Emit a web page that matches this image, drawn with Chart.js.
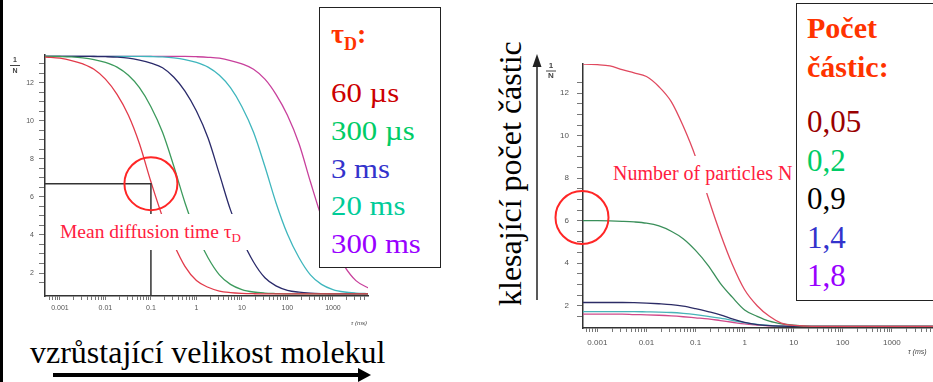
<!DOCTYPE html>
<html>
<head>
<meta charset="utf-8">
<script src="https://cdn.jsdelivr.net/npm/chart.js@4.4.0/dist/chart.umd.min.js"></script>
<style>
  html, body { margin: 0; padding: 0; background: #fff; }
  body { width: 933px; height: 382px; position: relative; overflow: hidden;
         font-family: "Liberation Serif", "Times New Roman", serif; }
  .wrap { position: absolute; }
  .box { position: absolute; background: #fff; border: 1.5px solid #222; box-sizing: border-box; }
  .t { position: absolute; white-space: nowrap; }
  .note { position: absolute; background: #fff; color: #ff2040; white-space: nowrap; }
  svg { position: absolute; left: 0; top: 0; }
</style>
</head>
<body>

<div class="wrap" style="left:0;top:0;width:380px;height:330px;"><canvas id="leftChart"></canvas></div>
<div class="wrap" style="left:540px;top:0;width:410px;height:375px;"><canvas id="rightChart"></canvas></div>

<!-- left legend -->
<div class="box" style="left:319px;top:7px;width:122px;height:261px;"></div>
<div class="t" style="left:331px;top:19px;font-size:28px;line-height:30px;font-weight:bold;color:#ff3300;">τ<span style="font-size:18px;position:relative;top:7px;">D</span>:</div>
<div class="t" style="left:331px;top:74px;font-size:28px;line-height:37.75px;transform:scaleX(1.1);transform-origin:left top;">
  <div style="color:#cc0000;">60 µs</div>
  <div style="color:#00cc66;">300 µs</div>
  <div style="color:#3333cc;">3 ms</div>
  <div style="color:#00cc99;">20 ms</div>
  <div style="color:#9900ff;">300 ms</div>
</div>

<!-- right legend -->
<div class="box" style="left:796px;top:3px;width:160px;height:298px;"></div>
<div class="t" style="left:807px;top:8px;font-size:30px;line-height:39px;font-weight:bold;color:#ff3300;">Počet<br>částic:</div>
<div class="t" style="left:807px;top:103px;font-size:31px;line-height:38.5px;">
  <div style="color:#990000;">0,05</div>
  <div style="color:#00cc66;">0,2</div>
  <div style="color:#000000;">0,9</div>
  <div style="color:#3333cc;">1,4</div>
  <div style="color:#9900ff;">1,8</div>
</div>

<!-- annotations -->
<div class="note" style="left:55px;top:214px;width:200px;height:36px;line-height:35px;font-size:19.5px;padding-left:5px;box-sizing:border-box;">Mean diffusion time τ<span style="font-size:13px;position:relative;top:4px;">D</span></div>
<div class="note" style="left:610px;top:156px;width:184px;height:37px;line-height:35px;font-size:20px;padding-left:3px;box-sizing:border-box;">Number of particles N</div>

<div class="t" style="left:30px;top:334px;font-size:32px;line-height:36px;color:#000;">vzrůstající velikost molekul</div>
<div class="t" style="left:492px;top:306px;font-size:32px;line-height:36px;color:#000;transform:rotate(-90deg);transform-origin:left top;">klesající počet částic</div>

<svg width="933" height="382">
  <rect x="0" y="0" width="3" height="382" fill="#000"/>
  <line x1="53" y1="375" x2="360" y2="375" stroke="#000" stroke-width="4"/>
  <polygon points="358,368 371,375 358,382" fill="#000"/>
  <line x1="537" y1="300" x2="537" y2="64" stroke="#222" stroke-width="1.5"/>
  <polygon points="532.5,67 537,54 541.5,67" fill="#222"/>
</svg>

<script>
// lag time grid (ms), quarter decades from 10^-3.5 to 10^4
const tau = [0.00032, 0.00056, 0.001, 0.0018, 0.0032, 0.0056, 0.01, 0.018, 0.032, 0.056,
             0.1, 0.18, 0.32, 0.56, 1, 1.8, 3.2, 5.6, 10, 18,
             32, 56, 100, 180, 320, 560, 1000, 1800, 3200, 5600, 10000];

// left plot: same N, growing diffusion time
const left60us  = [13.38, 13.35, 13.3, 13.18, 13.0, 12.72, 12.2, 11.4, 10.3, 8.8,
                   6.8, 4.95, 3.5, 2.35, 1.6, 1.25, 1.05, 0.97, 0.93, 0.91,
                   0.9, 0.9, 0.9, 0.9, 0.9, 0.9, 0.9, 0.9, 0.9, 0.9, 0.9];
const left300us = [13.4, 13.4, 13.39, 13.37, 13.32, 13.23, 13.08, 12.83, 12.4, 11.75,
                   10.75, 9.4, 7.6, 5.7, 4.05, 2.8, 1.9, 1.4, 1.13, 1.0,
                   0.945, 0.92, 0.9, 0.9, 0.9, 0.9, 0.9, 0.9, 0.9, 0.9, 0.9];
const left3ms   = [13.4, 13.4, 13.4, 13.4, 13.4, 13.39, 13.38, 13.36, 13.31, 13.2,
                   13.04, 12.8, 12.3, 11.57, 10.52, 9.1, 7.2, 5.32, 3.79, 2.58,
                   1.75, 1.32, 1.09, 0.99, 0.94, 0.915, 0.9, 0.9, 0.9, 0.9, 0.9];
const left20ms  = [13.4, 13.4, 13.4, 13.4, 13.4, 13.4, 13.4, 13.4, 13.4, 13.4,
                   13.39, 13.37, 13.32, 13.23, 13.08, 12.83, 12.4, 11.75, 10.75, 9.4,
                   7.6, 5.7, 4.05, 2.8, 1.9, 1.4, 1.13, 1.0, 0.945, 0.92, 0.9];
const left300ms = [13.4, 13.4, 13.4, 13.4, 13.4, 13.4, 13.4, 13.4, 13.4, 13.4,
                   13.4, 13.4, 13.4, 13.4, 13.38, 13.35, 13.3, 13.18, 13.0, 12.72,
                   12.2, 11.4, 10.3, 8.8, 6.8, 4.95, 3.5, 2.35, 1.6, 1.25, 1.05];

// right plot: same diffusion time, growing particle number
const rightN005 = [13.36, 13.36, 13.34, 13.28, 13.1, 12.95, 12.78, 12.3, 11.6, 10.45,
                   9.0, 7.1, 5.4, 3.95, 2.75, 2.0, 1.5, 1.18, 1.07, 1.04,
                   1.03, 1.03, 1.03, 1.03, 1.03, 1.03, 1.03, 1.03, 1.03, 1.03, 1.03];
const rightN02  = [6.0, 6.0, 6.0, 5.99, 5.97, 5.94, 5.88, 5.75, 5.5, 5.15,
                   4.6, 3.9, 3.05, 2.4, 1.8, 1.5, 1.27, 1.15, 1.08, 1.04,
                   1.03, 1.03, 1.03, 1.03, 1.03, 1.03, 1.03, 1.03, 1.03, 1.03, 1.03];
const rightN09  = [2.15, 2.15, 2.15, 2.15, 2.15, 2.14, 2.12, 2.09, 2.05, 1.98,
                   1.86, 1.72, 1.57, 1.38, 1.22, 1.11, 1.06, 1.04, 1.03, 1.03,
                   1.03, 1.03, 1.03, 1.03, 1.03, 1.03, 1.03, 1.03, 1.03, 1.03, 1.03];
const rightN14  = [1.72, 1.72, 1.72, 1.72, 1.72, 1.72, 1.71, 1.7, 1.68, 1.64,
                   1.58, 1.5, 1.41, 1.31, 1.2, 1.12, 1.07, 1.04, 1.03, 1.03,
                   1.03, 1.03, 1.03, 1.03, 1.03, 1.03, 1.03, 1.03, 1.03, 1.03, 1.03];
const rightN18  = [1.6, 1.6, 1.6, 1.6, 1.6, 1.58, 1.57, 1.55, 1.52, 1.48,
                   1.43, 1.38, 1.3, 1.22, 1.14, 1.09, 1.05, 1.04, 1.03, 1.03,
                   1.03, 1.03, 1.03, 1.03, 1.03, 1.03, 1.03, 1.03, 1.03, 1.03, 1.03];

// marked points
const markTau = 0.1, markLevel = 6.7;     // mean diffusion time on the left
const startLevel = 6.15;                  // circled amplitude on the right

const isPow10 = v => Math.abs(Math.log10(v) - Math.round(Math.log10(v))) < 1e-9;
const isStep = v => {
  const e = Math.floor(Math.log10(v) + 1e-9);
  const m = v / Math.pow(10, e);
  return Math.abs(m - Math.round(m)) < 1e-6;
};
const decadeLabel = v => {
  const k = Math.round(Math.log10(v));
  return k < 0 ? Math.pow(10, k).toFixed(-k) : String(Math.pow(10, k));
};

function series(values, color) {
  return {
    data: values.map((v, i) => ({ x: tau[i], y: v })),
    borderColor: color,
    borderWidth: 1.3,
    pointRadius: 0,
    fill: false,
    cubicInterpolationMode: 'monotone'
  };
}

function xAxis(min, max, size, pad, height) {
  return {
    type: 'logarithmic', min, max,
    afterBuildTicks: s => { s.ticks = s.ticks.filter(t => isStep(t.value)); },
    afterFit: s => { s.height = height; },
    grid: { drawOnChartArea: false, drawTicks: true, tickLength: 4, tickColor: '#777', tickWidth: 1 },
    border: { display: true, color: '#333', width: 1.5 },
    ticks: { autoSkip: false, maxRotation: 0, padding: pad, color: '#555',
             font: { family: 'Liberation Sans, Arial, sans-serif', size },
             callback: v => isPow10(v) ? decadeLabel(v) : '' }
  };
}

function yAxis(min, max, size, pad, width, tick) {
  return {
    min, max,
    afterBuildTicks: s => { s.ticks = s.ticks.filter(t => Math.abs(t.value * 2 - Math.round(t.value * 2)) < 1e-6); },
    afterFit: s => { s.width = width; },
    grid: { drawOnChartArea: false, drawTicks: true, tickLength: tick, tickColor: '#777', tickWidth: 1 },
    border: { display: true, color: '#333', width: 1.5 },
    ticks: { stepSize: 0.5, autoSkip: false, padding: pad, color: '#555',
             font: { family: 'Liberation Sans, Arial, sans-serif', size },
             callback: v => (v % 2 === 0 && v > 0) ? String(v) : '' }
  };
}

function axisLabels(o) {
  return {
    id: 'axisLabels',
    afterDraw(chart) {
      const { ctx, chartArea: a } = chart;
      ctx.save();
      ctx.fillStyle = '#444';
      ctx.strokeStyle = '#444';
      ctx.font = 'bold ' + o.size + 'px Liberation Sans, Arial';
      ctx.textAlign = 'center';
      ctx.textBaseline = 'middle';
      const cx = a.left - o.dx;
      ctx.fillText('1', cx, a.top + o.dy);
      ctx.lineWidth = 1;
      ctx.beginPath(); ctx.moveTo(cx - 5, a.top + o.dy + o.gap); ctx.lineTo(cx + 5, a.top + o.dy + o.gap); ctx.stroke();
      ctx.fillText('N', cx, a.top + o.dy + 2 * o.gap);
      ctx.font = 'italic ' + (o.size - 1) + 'px Liberation Sans, Arial';
      ctx.textAlign = o.tauAlign;
      ctx.fillText('τ (ms)', o.tauAlign === 'right' ? a.right - 1 : a.right - 29, a.bottom + o.tauDy);
      ctx.restore();
    }
  };
}

const leftMarks = {
  id: 'leftMarks',
  afterDatasetsDraw(chart) {
    const { ctx, chartArea: a, scales: { x, y } } = chart;
    const px = x.getPixelForValue(markTau), py = y.getPixelForValue(markLevel);
    ctx.save();
    ctx.strokeStyle = '#333';
    ctx.lineWidth = 1.5;
    ctx.beginPath(); ctx.moveTo(a.left, py); ctx.lineTo(px, py); ctx.lineTo(px, a.bottom); ctx.stroke();
    ctx.strokeStyle = '#ff2626';
    ctx.lineWidth = 2;
    ctx.beginPath(); ctx.arc(px, py, 26.5, 0, Math.PI * 2); ctx.stroke();
    ctx.restore();
  }
};

const rightMarks = {
  id: 'rightMarks',
  afterDatasetsDraw(chart) {
    const { ctx, chartArea: a, scales: { y } } = chart;
    ctx.save();
    ctx.strokeStyle = '#ff2626';
    ctx.lineWidth = 2;
    ctx.beginPath(); ctx.arc(a.left - 1, y.getPixelForValue(startLevel), 26.5, 0, Math.PI * 2); ctx.stroke();
    ctx.restore();
  }
};

const common = {
  responsive: true,
  maintainAspectRatio: false,
  animation: false,
  events: [],
  plugins: { legend: { display: false }, tooltip: { enabled: false } }
};

new Chart(document.getElementById('leftChart'), {
  type: 'line',
  data: {
    datasets: [
      series(left60us, '#e23a4a'),
      series(left300us, '#3c9a5c'),
      series(left3ms, '#2a2a6a'),
      series(left20ms, '#3fb6bd'),
      series(left300ms, '#c8409c')
    ]
  },
  options: Object.assign({}, common, {
    layout: { padding: { left: 0, top: 55, right: 12, bottom: 0 } },
    scales: { x: xAxis(0.00047, 5900, 7, 4, 34), y: yAxis(0.79, 13.47, 7, 5, 45, 6) }
  }),
  plugins: [leftMarks, axisLabels({ size: 7, dx: 30, dy: 5, gap: 5.5, tauDy: 27, tauAlign: 'right' })]
});

new Chart(document.getElementById('rightChart'), {
  type: 'line',
  data: {
    datasets: [
      series(rightN005, '#e0485e'),
      series(rightN02, '#3a8f5a'),
      series(rightN09, '#2c2c66'),
      series(rightN14, '#48b4b8'),
      series(rightN18, '#d04a8a')
    ]
  },
  options: Object.assign({}, common, {
    layout: { padding: { left: 0, top: 64, right: 13, bottom: 0 } },
    scales: { x: xAxis(0.00051, 8300, 8, 6, 47), y: yAxis(0.95, 13.37, 8, 8, 43, 6) }
  }),
  plugins: [rightMarks, axisLabels({ size: 8, dx: 32, dy: 2, gap: 5, tauDy: 24, tauAlign: 'left' })]
});
</script>
</body>
</html>
